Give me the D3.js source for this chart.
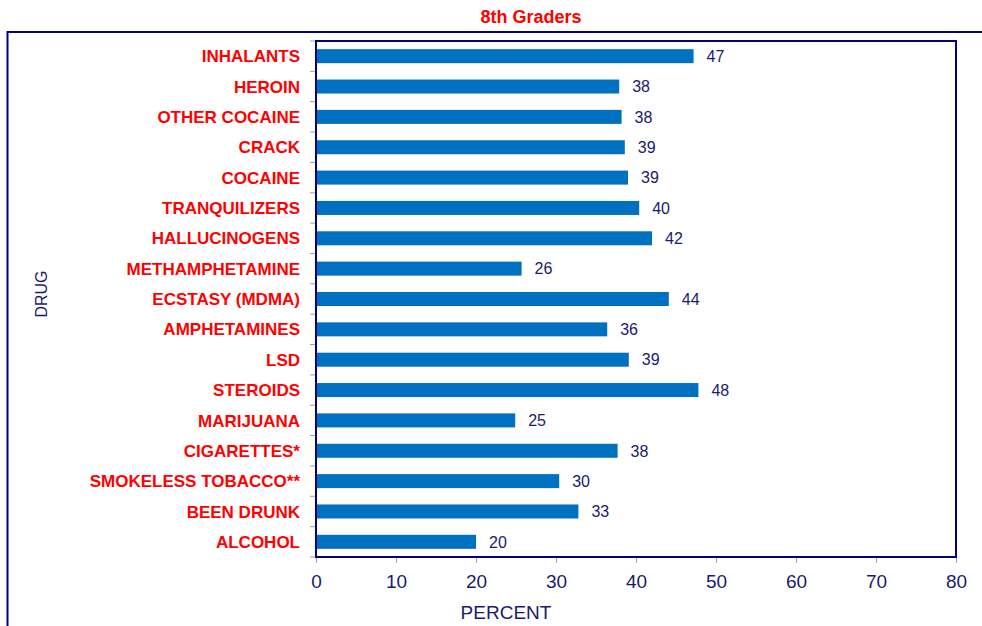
<!DOCTYPE html>
<html><head><meta charset="utf-8">
<script src="https://cdn.jsdelivr.net/npm/d3@7"></script>
<style>body{margin:0;background:#fff;} svg{display:block;}</style>
</head><body>
<svg id="c" width="982" height="626"></svg>
<script>
const categories = ["INHALANTS","HEROIN","OTHER COCAINE","CRACK","COCAINE","TRANQUILIZERS","HALLUCINOGENS","METHAMPHETAMINE","ECSTASY (MDMA)","AMPHETAMINES","LSD","STEROIDS","MARIJUANA","CIGARETTES*","SMOKELESS TOBACCO**","BEEN DRUNK","ALCOHOL"];
const values = [47.2,37.9,38.2,38.6,39.0,40.4,42.0,25.7,44.1,36.4,39.1,47.8,24.9,37.7,30.4,32.8,20.0];
const xTicks = [0,10,20,30,40,50,60,70,80];

const svg = d3.select("#c");
const font = "Arial, 'Liberation Sans', sans-serif";
const navy = "#000080", textNavy = "#1a1a6e", red = "#ff0000", bar = "#0070c0", tickCol = "#9a9ac8";
const L = 316, R = 956, T = 41, B = 557;

// outer frame
svg.append("rect").attr("x",7.5).attr("y",32).attr("width",1000).attr("height",700)
  .attr("fill","none").attr("stroke",navy).attr("stroke-width",2);

svg.append("text").attr("x",531).attr("y",23).attr("text-anchor","middle")
  .attr("font-family",font).attr("font-weight","bold")
  .attr("font-size",18).attr("fill",red).text("8th Graders");

const x = d3.scaleLinear().domain([0,80]).range([L,R]);
const yb = d3.scaleBand().domain(categories).range([T,B]);

// y ticks at band boundaries
const bounds = categories.map(c=>yb(c)).concat([B]);
svg.append("g").selectAll("line").data(bounds).join("line")
  .attr("x1",L-6).attr("x2",L).attr("y1",d=>d).attr("y2",d=>d)
  .attr("stroke",tickCol).attr("stroke-width",1);

// x axis
const xa = svg.append("g").attr("transform",`translate(0,${B})`)
  .call(d3.axisBottom(x).tickValues(xTicks).tickSize(6).tickPadding(12).tickFormat(d3.format("d")));
xa.select(".domain").remove();
xa.selectAll("line").attr("stroke",tickCol);
xa.selectAll("text").attr("font-family",font).attr("font-size",19).attr("fill",textNavy);

// bars
svg.append("g").selectAll("rect").data(categories).join("rect")
  .attr("x",x(0)).attr("y",c=>yb(c)+yb.bandwidth()/2-7).attr("height",14)
  .attr("width",(c,i)=>x(values[i])-x(0)).attr("fill",bar);

// value labels
svg.append("g").selectAll("text").data(categories).join("text")
  .attr("x",(c,i)=>x(values[i])+13).attr("y",c=>yb(c)+yb.bandwidth()/2).attr("dy","0.36em")
  .attr("font-family",font).attr("font-size",16).attr("fill",textNavy)
  .text((c,i)=>d3.format(".0f")(values[i]));

// category labels
svg.append("g").selectAll("text").data(categories).join("text")
  .attr("x",300).attr("y",c=>yb(c)+yb.bandwidth()/2).attr("dy","0.36em").attr("text-anchor","end")
  .attr("font-family",font).attr("font-weight","bold").attr("font-size",17).attr("fill",red)
  .text(c=>c);

// plot frame
svg.append("rect").attr("x",L).attr("y",T).attr("width",R-L).attr("height",B-T)
  .attr("fill","none").attr("stroke",navy).attr("stroke-width",2);

// axis titles
svg.append("text").attr("x",506).attr("y",619).attr("text-anchor","middle")
  .attr("font-family",font).attr("font-size",19).attr("fill",textNavy).text("PERCENT");
svg.append("text").attr("transform","translate(47,294) rotate(-90)").attr("text-anchor","middle")
  .attr("font-family",font).attr("font-size",16).attr("fill",textNavy).text("DRUG");
</script>
</body></html>
